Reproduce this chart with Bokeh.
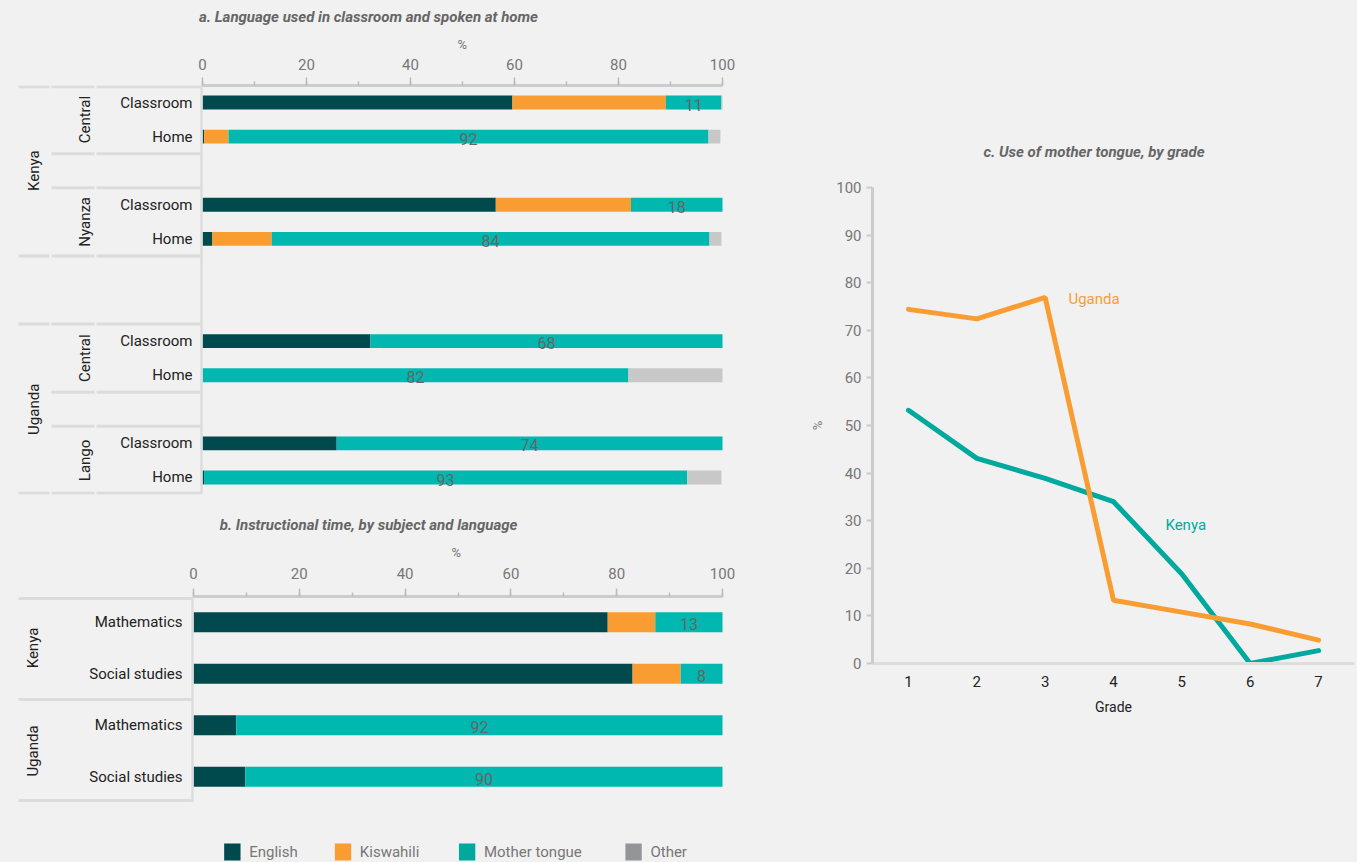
from bokeh.plotting import figure
from bokeh.models import Range1d, FixedTicker, Label, ColumnDataSource, Title
from bokeh.layouts import row, column
from bokeh.embed import file_html
from bokeh.resources import INLINE
from bokeh.core.properties import value
import math

FONT = "Roboto"
BG = "#f1f1f1"
C_ENG, C_KIS, C_MT, C_OTH = "#004a4d", "#f99d33", "#00b8b0", "#c8c8c8"
L_MT, L_OTH = "#00a99d", "#939598"

# ---------------- data: panel a ----------------
a_countries = ["Kenya", "Kenya", "Kenya", "Kenya", "Uganda", "Uganda", "Uganda", "Uganda"]
a_regions = ["Central", "Central", "Nyanza", "Nyanza", "Central", "Central", "Lango", "Lango"]
a_settings = ["Classroom", "Home", "Classroom", "Home", "Classroom", "Home", "Classroom", "Home"]
a_english = [59.6, 0.3, 56.4, 1.9, 32.3, 0.0, 25.8, 0.3]
a_kiswahili = [29.5, 4.7, 26.0, 11.4, 0.0, 0.0, 0.0, 0.0]
a_mother = [10.7, 92.3, 17.6, 84.2, 67.7, 81.9, 74.2, 92.9]
a_other = [0.2, 2.3, 0.0, 2.3, 0.0, 18.1, 0.0, 6.6]

# ---------------- data: panel b ----------------
b_countries = ["Kenya", "Kenya", "Uganda", "Uganda"]
b_subjects = ["Mathematics", "Social studies", "Mathematics", "Social studies"]
b_english = [78.3, 83.0, 8.1, 9.8]
b_kiswahili = [9.0, 9.1, 0.0, 0.0]
b_mother = [12.7, 7.9, 91.9, 90.2]

# ---------------- data: panel c ----------------
grades = [1, 2, 3, 4, 5, 6, 7]
kenya_mt = [53.2, 43.1, 38.9, 34.0, 18.8, 0.0, 2.7]
uganda_mt = [74.4, 72.4, 76.9, 13.3, 10.8, 8.3, 4.9]

legend_labels = ["English", "Kiswahili", "Mother tongue", "Other"]
legend_colors = [C_ENG, C_KIS, L_MT, L_OTH]


def slots(countries, groups, group_gap, country_gap):
    pos, cur, prev = [], 0, None
    for c, g in zip(countries, groups):
        if prev is not None:
            if c != prev[0]:
                cur += 1 + country_gap
            elif g != prev[1]:
                cur += 1 + group_gap
            else:
                cur += 1
        pos.append(cur)
        prev = (c, g)
    return pos


def spans(keys, pos):
    out = {}
    for k, p in zip(keys, pos):
        lo, hi = out.get(k, (p, p + 1))
        out[k] = (min(lo, p), max(hi, p + 1))
    return out


def style_top_axis(p, title, label_standoff, pct_offset, pct_standoff, title_standoff):
    ax = p.xaxis[0]
    ax.ticker = FixedTicker(ticks=[0, 20, 40, 60, 80, 100], minor_ticks=list(range(0, 101, 10)))
    ax.bounds = (0, 100)
    ax.axis_line_color = "#cccccc"
    ax.axis_line_width = 3
    ax.major_tick_line_color = "#bbbbbb"
    ax.major_tick_line_width = 1.5
    ax.major_tick_out = 8
    ax.major_tick_in = 0
    ax.minor_tick_line_color = "#bbbbbb"
    ax.minor_tick_line_width = 1.5
    ax.minor_tick_out = 4
    ax.minor_tick_in = 0
    ax.major_label_text_font = FONT
    ax.major_label_text_font_size = "15px"
    ax.major_label_text_color = "#777777"
    ax.major_label_standoff = label_standoff
    p.add_layout(Title(text="%", align="left", offset=pct_offset, text_font=FONT,
                       text_font_style="normal", text_font_size="13px",
                       text_color="#777777", standoff=pct_standoff), "above")
    p.add_layout(Title(text=title, align="center", text_font=FONT,
                       text_font_style="bold italic", text_font_size="15px",
                       text_color="#666666", standoff=title_standoff), "above")
    p.xgrid.visible = False
    p.ygrid.visible = False


# ================= panel a =================
A0, A100 = 202.0, 722.0


def xa(px):
    return (px - A0) * 100.0 / (A100 - A0)


pos_a = slots(a_countries, a_regions, 1, 2)
n_rows_a = max(pos_a) + 1
ya = [p + 0.5 for p in pos_a]

pa = figure(frame_width=712, frame_height=409, min_border_left=12, min_border_right=16,
            min_border_top=85, min_border_bottom=11, title=None,
            x_range=Range1d(xa(12), xa(724)), y_range=Range1d(n_rows_a, 0),
            x_axis_location="above", y_axis_location=None,
            toolbar_location=None, output_backend="svg",
            background_fill_color=BG, border_fill_color=BG, outline_line_color=None)
style_top_axis(pa, "a. Language used in classroom and spoken at home", 8, 457 - 12, 8, 10)

src_a = ColumnDataSource(dict(y=ya, english=a_english, kiswahili=a_kiswahili,
                              mother=a_mother, other=a_other))
pa.hbar_stack(["english", "kiswahili", "mother", "other"], y="y", height=0.41,
              color=[C_ENG, C_KIS, C_MT, C_OTH], line_color=None, source=src_a)

lab_x = [e + k + m / 2.0 for e, k, m in zip(a_english, a_kiswahili, a_mother)]
pa.text(x=lab_x, y=[y + 0.06 for y in ya], text=[str(round(m)) for m in a_mother],
        text_font=value(FONT), text_font_size="16px", text_color="#666666",
        text_align="center", text_baseline="middle")

pa.text(x=[xa(192)] * len(ya), y=ya, text=a_settings, text_font=value(FONT),
        text_font_size="15px", text_color="#222222", text_align="right", text_baseline="middle")

reg_sp = spans(list(zip(a_countries, a_regions)), pos_a)
cty_sp = spans(a_countries, pos_a)
pa.text(x=[xa(84)] * len(reg_sp), y=[(lo + hi) / 2 for lo, hi in reg_sp.values()],
        text=[k[1] for k in reg_sp.keys()], angle=math.pi / 2, text_font=value(FONT),
        text_font_size="15px", text_color="#222222", text_align="center", text_baseline="middle")
pa.text(x=[xa(33)] * len(cty_sp), y=[(lo + hi) / 2 for lo, hi in cty_sp.values()],
        text=list(cty_sp.keys()), angle=math.pi / 2, text_font=value(FONT),
        text_font_size="15px", text_color="#222222", text_align="center", text_baseline="middle")


def clampy(v, n):
    return min(max(v, 0.04), n - 0.04)


reg_b = sorted({b for sp in reg_sp.values() for b in sp})
cty_b = sorted({b for sp in cty_sp.values() for b in sp})
x0s, x1s, ys = [], [], []
for b in reg_b:
    for lo, hi in [(51, 94), (96, 200)]:
        x0s.append(xa(lo)); x1s.append(xa(hi)); ys.append(clampy(b, n_rows_a))
for b in cty_b:
    x0s.append(xa(18)); x1s.append(xa(49)); ys.append(clampy(b, n_rows_a))
pa.segment(x0=x0s, y0=ys, x1=x1s, y1=ys, line_color="#dcdcdc", line_width=3)
pa.segment(x0=[xa(201)], y0=[0], x1=[xa(201)], y1=[n_rows_a], line_color="#dcdcdc", line_width=2.5)

# ================= panel b =================
B0, B100 = 193.0, 722.0


def xb(px):
    return (px - B0) * 100.0 / (B100 - B0)


pos_b = slots(b_countries, b_countries, 0, 0)
n_rows_b = max(pos_b) + 1
yb = [p + 0.5 for p in pos_b]

pb = figure(frame_width=712, frame_height=206, min_border_left=12, min_border_right=16,
            min_border_top=91, min_border_bottom=2, title=None,
            x_range=Range1d(xb(12), xb(724)), y_range=Range1d(n_rows_b, 0),
            x_axis_location="above", y_axis_location=None,
            toolbar_location=None, output_backend="svg",
            background_fill_color=BG, border_fill_color=BG, outline_line_color=None)
style_top_axis(pb, "b. Instructional time, by subject and language", 10, 451 - 12, 10, 7)

src_b = ColumnDataSource(dict(y=yb, english=b_english, kiswahili=b_kiswahili, mother=b_mother))
pb.hbar_stack(["english", "kiswahili", "mother"], y="y", height=0.39,
              color=[C_ENG, C_KIS, C_MT], line_color=None, source=src_b)
lab_xb = [e + k + m / 2.0 for e, k, m in zip(b_english, b_kiswahili, b_mother)]
pb.text(x=lab_xb, y=[y + 0.04 for y in yb], text=[str(round(m)) for m in b_mother],
        text_font=value(FONT), text_font_size="16px", text_color="#666666",
        text_align="center", text_baseline="middle")
pb.text(x=[xb(182)] * len(yb), y=yb, text=b_subjects, text_font=value(FONT),
        text_font_size="15px", text_color="#222222", text_align="right", text_baseline="middle")
cty_spb = spans(b_countries, pos_b)
pb.text(x=[xb(32)] * len(cty_spb), y=[(lo + hi) / 2 for lo, hi in cty_spb.values()],
        text=list(cty_spb.keys()), angle=math.pi / 2, text_font=value(FONT),
        text_font_size="15px", text_color="#222222", text_align="center", text_baseline="middle")
bb = sorted({b for sp in cty_spb.values() for b in sp})
pb.segment(x0=[xb(18)] * len(bb), y0=[clampy(b, n_rows_b) for b in bb],
           x1=[xb(192)] * len(bb), y1=[clampy(b, n_rows_b) for b in bb],
           line_color="#dcdcdc", line_width=3)
pb.segment(x0=[xb(192)], y0=[0], x1=[xb(192)], y1=[n_rows_b], line_color="#dcdcdc", line_width=2.5)

# ================= legend strip (pixel-scaled figure) =================
LW, LH = 740, 58
pl = figure(width=LW, height=LH, min_border=0, x_range=Range1d(0, LW), y_range=Range1d(0, LH),
            x_axis_location=None, y_axis_location=None, toolbar_location=None,
            output_backend="svg", background_fill_color=BG, border_fill_color=BG,
            outline_line_color=None)
pl.xgrid.visible = False
pl.ygrid.visible = False
sw_left = [220, 335, 464, 637]
sw = 17
leg_y = 10.5
pl.rect(x=[s + sw / 2 for s in sw_left], y=[leg_y] * 4, width=sw, height=sw,
        fill_color=legend_colors, line_color=None)
pl.text(x=[s + sw + 9 for s in sw_left], y=[leg_y] * 4, text=legend_labels,
        text_font=value(FONT), text_font_size="15px", text_color="#777777",
        text_align="left", text_baseline="middle")

# ================= panel c =================
G1, G7 = 908.0, 1318.0
ppg = (G7 - G1) / 6.0
pc = figure(frame_width=482, frame_height=476, min_border_left=132, min_border_right=3,
            min_border_top=187, min_border_bottom=199,
            x_range=Range1d(1 - (G1 - 872) / ppg, 7 + (1354 - G7) / ppg), y_range=Range1d(0, 100),
            toolbar_location=None, output_backend="svg",
            background_fill_color=BG, border_fill_color=BG, outline_line_color=None)
pc.title.text = "c. Use of mother tongue, by grade"
pc.title.align = "left"
pc.title.offset = 983 - 872
pc.title.text_font = FONT
pc.title.text_font_style = "bold italic"
pc.title.text_font_size = "15px"
pc.title.text_color = "#666666"
pc.title.standoff = 53
pc.xgrid.visible = False
pc.ygrid.visible = False

yax = pc.yaxis[0]
yax.ticker = FixedTicker(ticks=list(range(0, 101, 10)), minor_ticks=[])
yax.axis_line_color = "#cccccc"
yax.axis_line_width = 3
yax.major_tick_line_color = "#cccccc"
yax.major_tick_line_width = 2
yax.major_tick_out = 6
yax.major_tick_in = 0
yax.major_label_text_font = FONT
yax.major_label_text_font_size = "15px"
yax.major_label_text_color = "#777777"
yax.major_label_standoff = 5
yax.axis_label = "%"
yax.axis_label_text_font = FONT
yax.axis_label_text_font_style = "normal"
yax.axis_label_text_font_size = "13px"
yax.axis_label_text_color = "#777777"
yax.axis_label_standoff = 8

xax = pc.xaxis[0]
xax.ticker = FixedTicker(ticks=grades, minor_ticks=[])
xax.axis_line_color = "#dddddd"
xax.axis_line_width = 3
xax.major_tick_out = 0
xax.major_tick_in = 0
xax.minor_tick_out = 0
xax.major_label_text_font = FONT
xax.major_label_text_font_size = "15px"
xax.major_label_text_color = "#222222"
xax.major_label_standoff = 12
xax.axis_label = "Grade"
xax.axis_label_text_font = FONT
xax.axis_label_text_font_style = "normal"
xax.axis_label_text_font_size = "14px"
xax.axis_label_text_color = "#222222"
xax.axis_label_standoff = 9

pc.line(grades, kenya_mt, line_color=L_MT, line_width=5, line_cap="round")
pc.line(grades, uganda_mt, line_color=C_KIS, line_width=5, line_cap="round")
pc.add_layout(Label(x=3.34, y=76.5, text="Uganda", text_color=C_KIS, text_font=FONT,
                    text_font_size="15px", text_baseline="middle"))
pc.add_layout(Label(x=4.76, y=29.2, text="Kenya", text_color=L_MT, text_font=FONT,
                    text_font_size="15px", text_baseline="middle"))

left_col = column(pa, pb, pl, styles={"background-color": BG})
layout = row(left_col, pc, styles={"background-color": BG})
open("out.html", "w").write(file_html(layout, INLINE))
